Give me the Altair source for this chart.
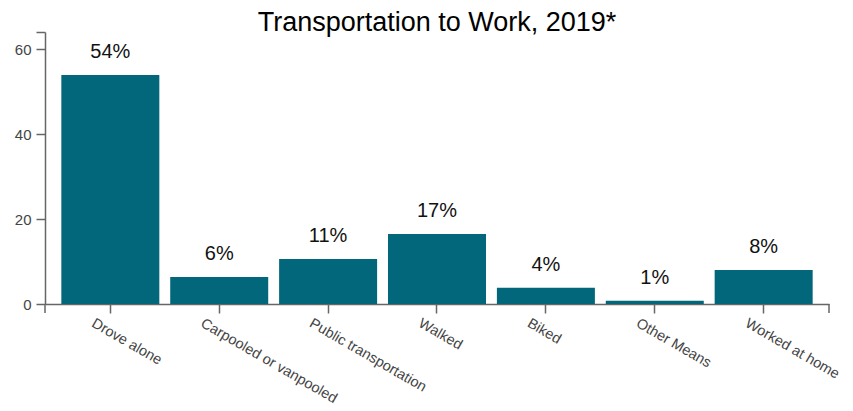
import altair as alt
import pandas as pd

categories = ["Drove alone", "Carpooled or vanpooled", "Public transportation",
              "Walked", "Biked", "Other Means", "Worked at home"]
values = [53.9, 6.35, 10.6, 16.5, 3.8, 0.78, 8.0]
labels = ["54%", "6%", "11%", "17%", "4%", "1%", "8%"]
y_ticks = [0, 20, 40, 60, 64]

df = pd.DataFrame({"mode": categories, "pct": values, "label": labels})

FONT = "Liberation Sans"
BAR = "#02677a"
W, H = 784, 272

x = alt.X("mode:N", sort=categories, title=None,
          scale=alt.Scale(paddingInner=0.1, paddingOuter=0.15),
          axis=alt.Axis(labelAngle=30, labelAlign="left", labelBaseline="top",
                        labelFont=FONT, labelFontSize=14.5, labelColor="#444",
                        labelOffset=-14, labelPadding=3, labelLimit=400,
                        tickSize=9, tickColor="#666", domainColor="#666",
                        tickWidth=1.5, domainWidth=1.5, grid=False))
y = alt.Y("pct:Q", title=None,
          scale=alt.Scale(domain=[0, 64], nice=False, zero=True),
          axis=alt.Axis(values=y_ticks, labelExpr="datum.value == 64 ? '' : datum.label",
                        labelFont=FONT, labelFontSize=15, labelColor="#444",
                        tickSize=9, tickColor="#666", domainColor="#666",
                        tickWidth=1.5, domainWidth=1.5, labelPadding=5, grid=False))

bars = alt.Chart(df).mark_bar(color=BAR).encode(x=x, y=y)
text = alt.Chart(df).mark_text(font=FONT, fontSize=20, color="#111",
                               baseline="alphabetic", dy=-17).encode(
    x=alt.X("mode:N", sort=categories), y="pct:Q", text="label:N")

one = pd.DataFrame({"k": [0]})
outer_left = alt.Chart(one).mark_rule(color="#666", strokeWidth=1.5).encode(
    x=alt.value(0), y=alt.value(H), y2=alt.value(H + 9))
outer_right = alt.Chart(one).mark_rule(color="#666", strokeWidth=1.5).encode(
    x=alt.value(W), y=alt.value(H), y2=alt.value(H + 9))

chart = alt.layer(bars, text, outer_left, outer_right).properties(
    width=W, height=H,
    title=alt.Title("Transportation to Work, 2019*", font=FONT, fontSize=27,
                    fontWeight="normal", color="#000", anchor="middle",
                    offset=0, baseline="alphabetic", dy=27),
    autosize=alt.AutoSizeParams(type="none"),
    padding={"left": 37, "top": 24, "right": 16, "bottom": 115},
).configure_view(stroke=None)

chart.save("out.html", embed_options={"renderer": "svg", "actions": False})
